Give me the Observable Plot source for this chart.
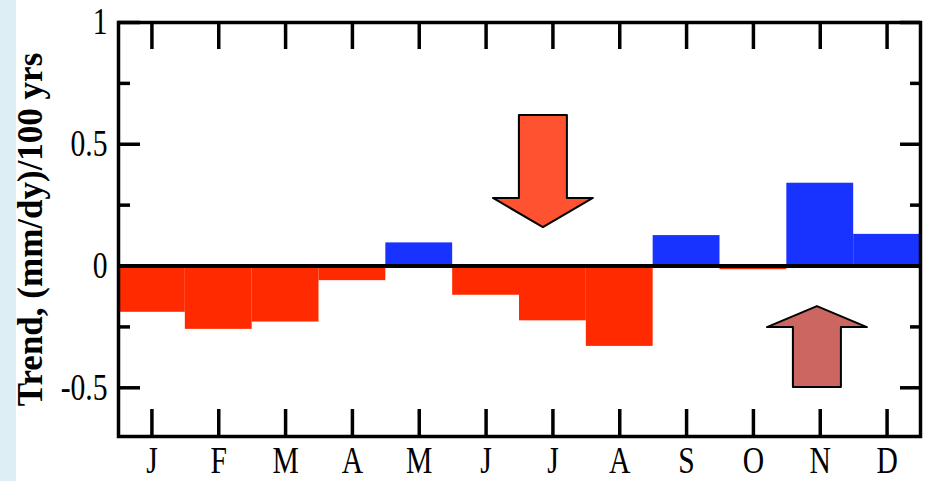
<!DOCTYPE html>
<html>
<head>
<meta charset="utf-8">
<script src="https://cdn.jsdelivr.net/npm/d3@7"></script>
<script src="https://cdn.jsdelivr.net/npm/@observablehq/plot@0.6"></script>
<style>
  html, body { margin: 0; padding: 0; background: #ffffff; }
  #wrap { position: relative; width: 927px; height: 481px; overflow: hidden; }
  #strip { position: absolute; left: 0; top: 0; width: 16px; height: 481px; background: #deeef5; }
  #chart { position: absolute; left: 0; top: 0; }
</style>
</head>
<body>
<div id="wrap"><div id="strip"></div><div id="chart"></div></div>
<script>
const months = ["J","F","M","A","M","J","J","A","S","O","N","D"];
const trend  = [-0.19, -0.26, -0.23, -0.06, 0.095, -0.12, -0.225, -0.33, 0.125, -0.015, 0.34, 0.13];
const yMajor = [-0.5, 0, 0.5, 1];
const yMinor = [-0.25, 0.25, 0.75];
const yTitle = "Trend, (mm/dy)/100 yrs";
// annotation arrows: month position, start value
const arrowDown = [{m: 5.85, v: 0.62}];
const arrowUp   = [{m: 9.95, v: -0.497}];

const data = trend.map((v, i) => ({i, v, x1: i - 0.5, x2: i + 0.5}));
const idx = months.map((d, i) => i);

const blockArrow = {
  draw(ctx, l) {
    const hl = l * 0.26, sw = 24, hw = 50;
    ctx.moveTo(-sw, 0);
    ctx.lineTo(-sw, -(l - hl));
    ctx.lineTo(-hw, -(l - hl));
    ctx.lineTo(0, -l);
    ctx.lineTo(hw, -(l - hl));
    ctx.lineTo(sw, -(l - hl));
    ctx.lineTo(sw, 0);
    ctx.closePath();
  }
};

const W = 927, H = 481, ML = 118, MR = 7, MT = 22, MB = 45;
const pw = W - ML - MR, ph = H - MT - MB;

const chart = Plot.plot({
  width: W, height: H,
  marginLeft: ML, marginRight: MR, marginTop: MT, marginBottom: MB,
  style: {background: "transparent", fontFamily: "Liberation Serif", color: "#000", overflow: "visible"},
  x: {type: "linear", domain: [-0.5, 11.5]},
  y: {domain: [-0.7, 1]},
  marks: [
    Plot.rectY(data, {x1: "x1", x2: "x2", y1: 0, y2: "v", fill: d => d.v >= 0 ? "#1833ff" : "#ff2a00"}),
    Plot.ruleY([0], {stroke: "#000", strokeWidth: 4}),
    // inward ticks
    Plot.ruleY(yMajor, {insetRight: pw - 22, stroke: "#000", strokeWidth: 3.5}),
    Plot.ruleY(yMinor, {insetRight: pw - 12, stroke: "#000", strokeWidth: 3.5}),
    Plot.ruleY(yMajor, {insetLeft: pw - 20, stroke: "#000", strokeWidth: 3.5}),
    Plot.ruleY(yMinor, {insetLeft: pw - 10, stroke: "#000", strokeWidth: 3.5}),
    Plot.ruleX(idx, {insetTop: ph - 27, stroke: "#000", strokeWidth: 3.5}),
    Plot.ruleX(idx, {insetBottom: ph - 27, stroke: "#000", strokeWidth: 3.5}),
    Plot.frame({stroke: "#000", strokeWidth: 3.5}),
    Plot.vector(arrowDown, {x: "m", y: "v", length: 112, rotate: 180, anchor: "start", shape: blockArrow, fill: "#ff5230", stroke: "#000", strokeWidth: 2}),
    Plot.vector(arrowUp, {x: "m", y: "v", length: 81, rotate: 0, anchor: "start", shape: blockArrow, fill: "#cc6660", stroke: "#000", strokeWidth: 2}),
    Plot.axisY({ticks: yMajor, tickSize: 0, tickPadding: 11, fontSize: 37, label: null, tickFormat: d => String(d)}),
    Plot.axisX({ticks: idx, tickSize: 0, tickPadding: 10, fontSize: 37, label: null, tickFormat: i => months[i]}),
    Plot.text([yTitle], {frameAnchor: "left", textAnchor: "middle", rotate: -90, dx: -88, fontSize: 35, fontWeight: "bold"})
  ]
});
// the reference lettering is horizontally condensed
chart.querySelectorAll('g[aria-label$="tick label"] text').forEach(el => {
  const t = el.getAttribute("transform");
  if (t && t.includes("translate")) {
    el.setAttribute("transform", t + " scale(0.8,1)");
  } else {
    const x = +(el.getAttribute("x") || 0);
    el.setAttribute("transform", `translate(${x},0) scale(0.8,1) translate(${-x},0)`);
  }
});
document.getElementById("chart").appendChild(chart);
</script>
</body>
</html>
